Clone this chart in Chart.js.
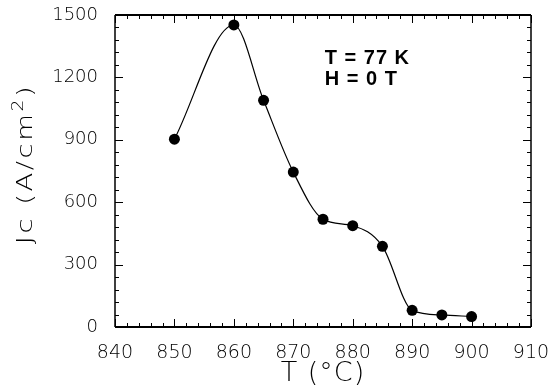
<!DOCTYPE html>
<html>
<head>
<meta charset="utf-8">
<script src="https://cdn.jsdelivr.net/npm/chart.js@4/dist/chart.umd.min.js"></script>
<style>
  html, body { margin: 0; padding: 0; background: #fff; }
  #wrap { width: 553px; height: 388px; }
</style>
</head>
<body>
<div id="wrap"><canvas id="jcChart" width="553" height="388"></canvas></div>
<script>
// annealing temperature (°C) and critical current density Jc (A/cm²)
const temps = [850, 860, 865, 870, 875, 880, 885, 890, 895, 900];
const jcValues = [903, 1452, 1090, 745, 518, 487, 388, 80, 58, 50];
const xTicks = [840, 850, 860, 870, 880, 890, 900, 910];
const yTicks = [0, 300, 600, 900, 1200, 1500];
const noteLines = ["T = 77 K", "H = 0 T"];

const tickFont = { family: "'DejaVu Sans', sans-serif", size: 18, weight: 300 };

// box around the plot with inward major/minor ticks on all four sides
const frameTicks = {
    id: "frameTicks",
    afterDatasetsDraw(chart) {
        const { ctx, chartArea: a, scales: { x, y } } = chart;
        ctx.save();
        ctx.strokeStyle = "#000";

        ctx.lineWidth = 1;
        for (let v = xTicks[0]; v <= xTicks[xTicks.length - 1]; v += 2) {
            const px = Math.round(x.getPixelForValue(v)) + 0.5;
            const len = (v % 10 === 0) ? 8 : 4;
            ctx.beginPath();
            ctx.moveTo(px, a.bottom); ctx.lineTo(px, a.bottom - len);
            ctx.moveTo(px, a.top); ctx.lineTo(px, a.top + len);
            ctx.stroke();
        }
        for (let v = yTicks[0]; v <= yTicks[yTicks.length - 1]; v += 60) {
            const py = Math.round(y.getPixelForValue(v)) + 0.5;
            const len = (v % 300 === 0) ? 8 : 4;
            ctx.beginPath();
            ctx.moveTo(a.left, py); ctx.lineTo(a.left + len, py);
            ctx.moveTo(a.right, py); ctx.lineTo(a.right - len, py);
            ctx.stroke();
        }

        ctx.lineWidth = 1.5;
        ctx.beginPath();
        ctx.moveTo(a.left, a.top); ctx.lineTo(a.left, a.bottom);
        ctx.moveTo(a.right, a.top); ctx.lineTo(a.right, a.bottom);
        ctx.stroke();
        ctx.lineWidth = 2;
        ctx.beginPath();
        ctx.moveTo(a.left, a.top); ctx.lineTo(a.right, a.top);
        ctx.moveTo(a.left, a.bottom); ctx.lineTo(a.right, a.bottom);
        ctx.stroke();
        ctx.restore();
    }
};

// axis titles and the measurement conditions
const labels = {
    id: "labels",
    afterDraw(chart) {
        const { ctx, chartArea: a, scales: { x, y } } = chart;
        ctx.save();
        ctx.fillStyle = "#000";
        ctx.textAlign = "center";
        ctx.textBaseline = "middle";

        ctx.font = "300 27px 'DejaVu Sans', sans-serif";
        ctx.letterSpacing = "1px";
        ctx.fillText("T (°C)", (a.left + a.right) / 2, 374);

        // rotated y title, stretched along the text, with a raised "2"
        ctx.translate(24, 164);
        ctx.rotate(-Math.PI / 2);
        ctx.scale(1.25, 1);
        ctx.textAlign = "left";
        ctx.textBaseline = "alphabetic";
        ctx.letterSpacing = "2px";
        const mainFont = "300 22px 'DejaVu Sans', sans-serif";
        const supFont = "300 15px 'DejaVu Sans', sans-serif";
        const parts = [["Jc (A/cm", mainFont, 0], ["2", supFont, -9], [")", mainFont, 0]];
        let total = 0;
        parts.forEach(([t, f]) => { ctx.font = f; total += ctx.measureText(t).width; });
        let cx = -total / 2;
        parts.forEach(([t, f, dy]) => {
            ctx.font = f;
            ctx.fillText(t, cx, 8 + dy);
            cx += ctx.measureText(t).width;
        });
        ctx.restore();

        ctx.save();
        ctx.fillStyle = "#000";
        ctx.font = "bold 20px 'Liberation Sans', Arial, sans-serif";
        ctx.letterSpacing = "1px";
        ctx.textAlign = "left";
        ctx.textBaseline = "alphabetic";
        const nx = x.getPixelForValue(875.3);
        ctx.fillText(noteLines[0], nx, y.getPixelForValue(1265));
        ctx.fillText(noteLines[1], nx, y.getPixelForValue(1163));
        ctx.restore();
    }
};

new Chart(document.getElementById("jcChart"), {
    type: "line",
    data: {
        datasets: [{
            data: temps.map((t, i) => ({ x: t, y: jcValues[i] })),
            borderColor: "#000",
            borderWidth: 1.2,
            backgroundColor: "#000",
            pointBackgroundColor: "#000",
            pointBorderColor: "#000",
            pointRadius: 5.5,
            pointBorderWidth: 0,
            cubicInterpolationMode: "monotone",
            fill: false
        }]
    },
    options: {
        responsive: false,
        animation: false,
        layout: { padding: { top: 15, right: 22, left: 0, bottom: 0 } },
        plugins: {
            legend: { display: false },
            tooltip: { enabled: false }
        },
        scales: {
            x: {
                type: "linear",
                min: xTicks[0],
                max: xTicks[xTicks.length - 1],
                border: { display: false },
                grid: { display: false, drawTicks: false },
                afterBuildTicks: (s) => { s.ticks = xTicks.map(v => ({ value: v })); },
                afterFit: (s) => { s.height = 61; s.paddingLeft = 0; s.paddingRight = 0; },
                ticks: {
                    color: "#000",
                    font: { ...tickFont, size: 19 },
                    padding: 15,
                    maxRotation: 0,
                    callback: (v) => String(v)
                }
            },
            y: {
                type: "linear",
                min: yTicks[0],
                max: yTicks[yTicks.length - 1],
                border: { display: false },
                grid: { display: false, drawTicks: false },
                afterBuildTicks: (s) => { s.ticks = yTicks.map(v => ({ value: v })); },
                afterFit: (s) => { s.width = 115; s.paddingTop = 0; s.paddingBottom = 0; },
                ticks: {
                    color: "#000",
                    font: tickFont,
                    padding: 17,
                    callback: (v) => String(v)
                }
            }
        }
    },
    plugins: [frameTicks, labels]
});
</script>
</body>
</html>
